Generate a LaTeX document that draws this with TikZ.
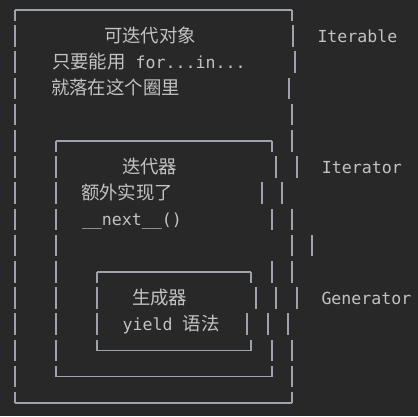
\documentclass[tikz,border=0pt]{standalone}
\usepackage{fontspec}
\newfontfamily\monofam{DejaVu Sans Mono}
\newfontfamily\cjkfam{Noto Sans CJK SC}
\newcommand{\mf}{\monofam\fontsize{16.6}{20}\selectfont}
\newcommand{\cf}{\cjkfam\fontsize{18.4}{20}\selectfont}
\definecolor{bgc}{HTML}{282828}
\definecolor{inkc}{HTML}{C2C2C2}
\definecolor{rulec}{HTML}{9EA3AB}
\newcommand{\yh}[1]{10+26.2*#1}
\begin{document}
\begin{tikzpicture}[x=1pt,y=-1pt,
  hline/.style={draw=rulec,line width=1.1pt},
  vline/.style={draw=rulec,line width=1.7pt},
  txt/.style={inner sep=0pt,outer sep=0pt,anchor=base west,text=inkc}]
\fill[bgc] (0,0) rectangle (418,416);
\useasboundingbox (0,0) rectangle (418,416);

% row bar macro via foreach lists {x/row}
% ---------- outer box (Iterable) ----------
\draw[hline] (15,10) -- (291.7,10);
\draw[vline] (15,10) -- (15,20.5);
\draw[vline] (291.7,10) -- (291.7,20.5);
\draw[hline] (15,403) -- (292.3,403);
\draw[vline] (15,392) -- (15,403);
\draw[vline] (292.3,392) -- (292.3,403);
\foreach \r in {1,...,14}{
  \draw[vline] (15,{\yh{\r}-11}) -- (15,{\yh{\r}+10.5});
}
\foreach \x/\r in {292.7/1,295/2,289/3,292/4,292/5,296.7/6,282.3/7,291.7/8,312.3/9,291.7/10,296.7/11,288.3/12,292.3/13,292.3/14}{
  \draw[vline] (\x,{\yh{\r}-11}) -- (\x,{\yh{\r}+10.5});
}

% ---------- middle box (Iterator) ----------
\draw[hline] (56,141) -- (271.7,141);
\draw[vline] (56,141) -- (56,151.5);
\draw[vline] (271.7,141) -- (271.7,151.5);
\draw[hline] (56,376.8) -- (271.7,376.8);
\draw[vline] (56,365.8) -- (56,376.8);
\draw[vline] (271.7,365.8) -- (271.7,376.8);
\foreach \r in {6,...,13}{
  \draw[vline] (56,{\yh{\r}-11}) -- (56,{\yh{\r}+10.5});
}
\foreach \x/\r in {275.7/6,261.7/7,271.7/8,291.7/9,271.7/10,276/11,267.7/12,271.7/13}{
  \draw[vline] (\x,{\yh{\r}-11}) -- (\x,{\yh{\r}+10.5});
}

% ---------- inner box (Generator) ----------
\draw[hline] (97.3,272) -- (251,272);
\draw[vline] (97.3,272) -- (97.3,282.5);
\draw[vline] (251,272) -- (251,282.5);
\draw[hline] (97.3,350.6) -- (251,350.6);
\draw[vline] (97.3,339.6) -- (97.3,350.6);
\draw[vline] (251,339.6) -- (251,350.6);
\foreach \r in {11,12}{
  \draw[vline] (97.3,{\yh{\r}-11}) -- (97.3,{\yh{\r}+10.5});
}
\foreach \x/\r in {255.7/11,246.7/12}{
  \draw[vline] (\x,{\yh{\r}-11}) -- (\x,{\yh{\r}+10.5});
}

% ---------- texts ----------
\node[txt] (t1) at (104,42.2) {\cf 可迭代对象};
\node[txt] (t2) at (52,68.4) {{\cf 只要能用}{\mf\ for...in...}};
\node[txt] (t3) at (51,94.6) {\cf 就落在这个圈里};
\node[txt] (lit) at (317.5,42.2) {\mf Iterable};

\node[txt] (t4) at (122,173.2) {\cf 迭代器};
\node[txt] (t5) at (81,199.4) {\cf 额外实现了};
\node[txt] (t6) at (82,225.6) {\mf \_\_next\_\_()};
\node[txt] (lir) at (321.8,173.2) {\mf Iterator};

\node[txt] (t7) at (132,304.2) {\cf 生成器};
\node[txt] (t8) at (122.7,330.4) {{\mf yield\ }{\cf 语法}};
\node[txt] (lgn) at (321.5,304.2) {\mf Generator};
\end{tikzpicture}
\end{document}
